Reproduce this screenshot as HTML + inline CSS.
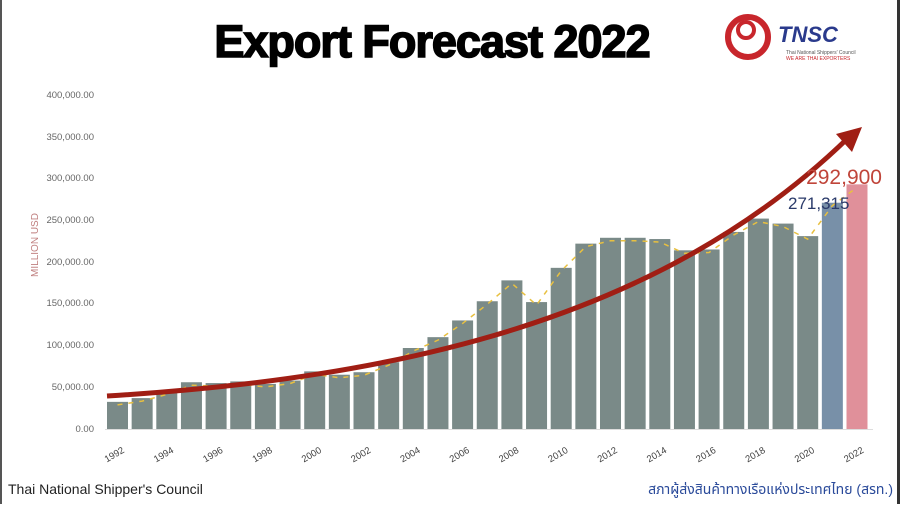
<!DOCTYPE html>
<html><head><meta charset="utf-8"><style>
body{margin:0;width:900px;height:504px;background:#fff;overflow:hidden;font-family:"Liberation Sans",sans-serif}
</style></head><body>
<svg width="900" height="504" xmlns="http://www.w3.org/2000/svg">
<rect x="0" y="0" width="2" height="504" fill="#555"/>
<rect x="897" y="0" width="3" height="504" fill="#333"/>
<text x="432" y="57" text-anchor="middle" font-family="Liberation Sans" font-weight="bold" font-size="45" fill="#000" stroke="#000" stroke-width="1.6" letter-spacing="-1">Export Forecast 2022</text>
<g>
<circle cx="748" cy="37" r="20" fill="none" stroke="#c8262c" stroke-width="6"/>
<circle cx="746" cy="30" r="8" fill="none" stroke="#c8262c" stroke-width="4"/>
<text x="778" y="42" font-size="22" font-weight="bold" font-style="italic" fill="#2a3a8c">TNSC</text>
<text x="786" y="54" font-size="5" fill="#555">Thai National Shippers' Council</text>
<text x="786" y="60" font-size="5" fill="#c8262c">WE ARE THAI EXPORTERS</text>
</g>
<g font-size="9.5" fill="#666" text-anchor="end">
<text x="94" y="98">400,000.00</text>
<text x="94" y="140">350,000.00</text>
<text x="94" y="181">300,000.00</text>
<text x="94" y="223">250,000.00</text>
<text x="94" y="265">200,000.00</text>
<text x="94" y="306">150,000.00</text>
<text x="94" y="348">100,000.00</text>
<text x="94" y="390">50,000.00</text>
<text x="94" y="432">0.00</text>
</g>
<text transform="translate(38,245) rotate(-90)" text-anchor="middle" font-size="10" fill="#c08080">MILLION USD</text>
<line x1="105" y1="429.5" x2="873" y2="429.5" stroke="#ddd"/>
<g id="bars"></g>
<g id="labels" font-size="9.5" fill="#444"></g>
<path d="M107,396 C400,378 660,320 848,138" fill="none" stroke="#a01e14" stroke-width="5"/>
<polygon points="862,127 836,134 852,152" fill="#a01e14"/>
<text x="788" y="209" font-size="17" fill="#2a3a6a">271,315</text>
<text x="882" y="184" text-anchor="end" font-size="21" fill="#c0453a">292,900</text>
<text x="8" y="494" font-size="14" fill="#222">Thai National Shipper's Council</text>
<text x="893" y="494" text-anchor="end" font-size="14" fill="#2a4a9a" font-family="Liberation Sans, 'Noto Sans Thai', 'DejaVu Sans', sans-serif">สภาผู้ส่งสินค้าทางเรือแห่งประเทศไทย (สรท.)</text>
</svg>
<script>
var v=[32.5,37,45,56,55,57,54,58,69,65,68,80,97,110,130,153,178,152,193,222,229,229,227.5,214,215,236,252,246,231,271,293];
var ns="http://www.w3.org/2000/svg",b=document.getElementById('bars'),l=document.getElementById('labels');
var slot=24.65,pts=[];
v.forEach(function(x,i){var h=x*0.835,X=107+i*slot,r=document.createElementNS(ns,'rect');
r.setAttribute('x',X);r.setAttribute('y',429-h);r.setAttribute('width',21);r.setAttribute('height',h);
r.setAttribute('fill',i==29?'#7890a8':i==30?'#e0909a':'#7a8a88');b.appendChild(r);
pts.push((X+10.5)+','+(429-h+3));
if(i%2==0){var t=document.createElementNS(ns,'text');t.setAttribute('transform','translate('+(X+18)+',452) rotate(-30)');t.setAttribute('text-anchor','end');t.textContent=1992+i;l.appendChild(t);}});
var p=document.createElementNS(ns,'polyline');p.setAttribute('points',pts.join(' '));p.setAttribute('fill','none');p.setAttribute('stroke','#e8c040');p.setAttribute('stroke-width','1.5');p.setAttribute('stroke-dasharray','5,6');b.appendChild(p);
</script>
</body></html>
